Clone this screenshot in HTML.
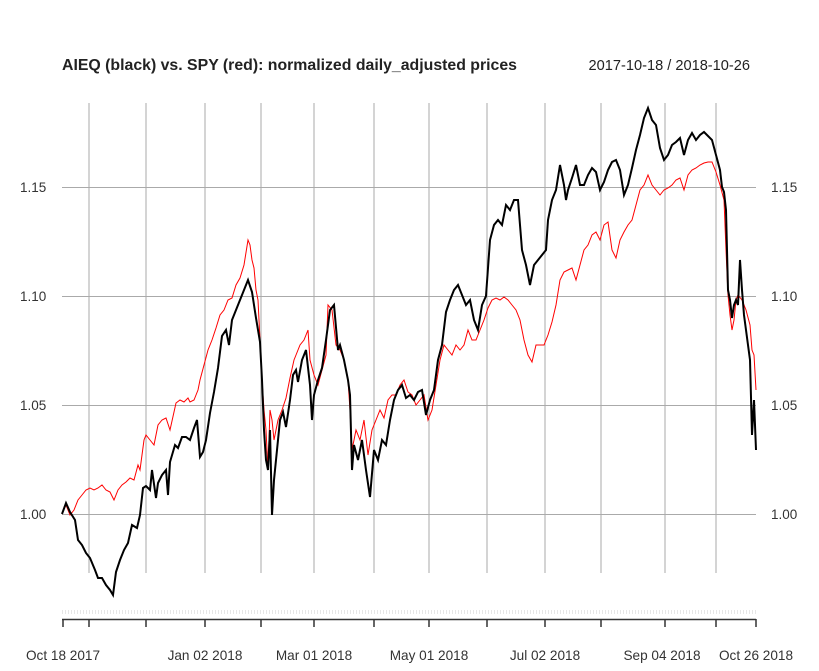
<!DOCTYPE html>
<html><head><meta charset="utf-8"><style>
html,body{margin:0;padding:0;background:#fff;}
svg{display:block;font-family:"Liberation Sans",Arial,sans-serif;}
</style></head><body>
<svg width="819" height="671" viewBox="0 0 819 671" xmlns="http://www.w3.org/2000/svg">
<rect width="819" height="671" fill="#fff"/>
<text x="62" y="70" font-size="15.6" font-weight="bold" fill="#222" textLength="455" lengthAdjust="spacingAndGlyphs">AIEQ (black) vs. SPY (red): normalized daily_adjusted prices</text>
<text x="750" y="70" font-size="14.6" text-anchor="end" fill="#222">2017-10-18 / 2018-10-26</text>
<g stroke="#aaa" stroke-width="1">
<line x1="62" y1="514.5" x2="756" y2="514.5"/>
<line x1="62" y1="405.5" x2="756" y2="405.5"/>
<line x1="62" y1="296.5" x2="756" y2="296.5"/>
<line x1="62" y1="187.5" x2="756" y2="187.5"/>
<g>
<line x1="89" y1="103" x2="89" y2="573"/><line x1="146" y1="103" x2="146" y2="573"/>
<line x1="205" y1="103" x2="205" y2="573"/><line x1="261" y1="103" x2="261" y2="573"/>
<line x1="314" y1="103" x2="314" y2="573"/><line x1="374" y1="103" x2="374" y2="573"/>
<line x1="429" y1="103" x2="429" y2="573"/><line x1="487" y1="103" x2="487" y2="573"/>
<line x1="545" y1="103" x2="545" y2="573"/><line x1="601" y1="103" x2="601" y2="573"/>
<line x1="665" y1="103" x2="665" y2="573"/><line x1="716" y1="103" x2="716" y2="573"/>
</g></g>
<g font-size="13.5" fill="#333">
<text x="20" y="519">1.00</text><text x="20" y="410">1.05</text><text x="20" y="301">1.10</text><text x="20" y="192">1.15</text>
<text x="771" y="519">1.00</text><text x="771" y="410">1.05</text><text x="771" y="301">1.10</text><text x="771" y="192">1.15</text>
</g>
<line x1="62" y1="612" x2="756" y2="612" stroke="#e6e6e6" stroke-width="4" stroke-dasharray="1,2"/>
<g stroke="#333" stroke-width="1.5">
<line x1="62" y1="619.5" x2="756" y2="619.5"/>
<line x1="63" y1="619" x2="63" y2="627"/><line x1="89" y1="619" x2="89" y2="627"/><line x1="146" y1="619" x2="146" y2="627"/>
<line x1="205" y1="619" x2="205" y2="627"/><line x1="261" y1="619" x2="261" y2="627"/><line x1="314" y1="619" x2="314" y2="627"/>
<line x1="374" y1="619" x2="374" y2="627"/><line x1="429" y1="619" x2="429" y2="627"/><line x1="487" y1="619" x2="487" y2="627"/>
<line x1="545" y1="619" x2="545" y2="627"/><line x1="601" y1="619" x2="601" y2="627"/><line x1="665" y1="619" x2="665" y2="627"/>
<line x1="716" y1="619" x2="716" y2="627"/><line x1="756" y1="619" x2="756" y2="627"/>
</g>
<g font-size="13.6" fill="#333" text-anchor="middle">
<text x="63" y="660">Oct 18 2017</text><text x="205" y="660">Jan 02 2018</text><text x="314" y="660">Mar 01 2018</text>
<text x="429" y="660">May 01 2018</text><text x="545" y="660">Jul 02 2018</text><text x="662" y="660">Sep 04 2018</text><text x="756" y="660">Oct 26 2018</text>
</g>
<polyline fill="none" stroke="#f00" stroke-width="1" points="62,514 66,505 70,515 74,510 78,500 82,495 86,490 90,488 94,490 98,488 102,485 106,490 110,492 114,500 118,490 122,485 126,482 130,478 134,480 138,465 140,470 144,440 146,435 150,440 154,445 158,425 162,420 166,418 170,430 174,412 176,403 180,400 184,402 188,398 190,402 194,400 196,395 198,390 200,380 204,365 208,350 212,340 216,328 220,315 224,310 228,300 232,298 236,285 240,278 244,265 248,240 250,245 252,260 254,268 256,290 258,300 260,340 262,380 264,410 266,430 268,470 270,410 272,420 274,440 278,420 282,410 286,398 290,378 294,360 296,355 300,345 304,340 308,330 310,360 314,375 318,385 322,370 326,355 328,305 332,310 336,345 340,350 344,360 348,380 350,410 352,450 356,430 360,440 364,420 368,455 372,430 376,420 380,410 384,418 388,400 392,395 396,395 400,385 404,380 408,392 412,395 416,405 420,400 424,395 428,420 432,410 436,385 440,360 444,345 448,350 452,355 456,345 460,350 464,345 468,330 472,340 476,340 480,330 484,320 488,308 492,300 496,298 500,300 504,297 508,300 512,305 516,310 520,320 524,340 528,355 532,362 536,345 540,345 544,345 548,335 552,322 556,305 560,280 564,272 568,270 572,268 576,280 580,265 584,250 588,245 592,235 596,232 600,240 604,225 608,222 612,250 616,258 620,240 624,232 628,225 632,220 636,205 640,190 644,185 648,175 652,185 656,190 660,195 664,190 668,188 672,185 676,180 680,178 684,190 688,175 692,170 696,168 700,165 704,163 708,162 712,162 716,172 720,185 724,200 726,250 728,295 730,315 732,330 734,320 736,300 738,295 742,300 746,310 750,325 752,350 754,355 756,390"/>
<polyline fill="none" stroke="#000" stroke-width="2" points="62,514 66,503 70,512 75,520 78,540 82,545 86,553 90,558 95,570 98,578 102,578 106,585 110,590 113,595 116,572 120,560 124,550 128,543 132,525 137,528 140,515 143,488 146,486 150,490 152,470 156,498 158,483 162,475 166,470 168,495 170,462 175,445 178,448 182,437 186,437 190,440 194,428 197,420 200,457 203,452 206,440 210,413 214,392 218,368 222,336 226,330 229,345 232,320 236,310 240,300 244,290 248,280 252,292 256,318 258,330 260,342 262,380 264,430 266,460 268,470 270,430 272,515 274,480 276,460 280,420 283,412 286,427 290,400 293,375 296,370 298,382 302,360 306,350 310,385 312,420 314,395 318,380 322,368 326,340 330,310 334,305 338,350 340,345 344,360 348,380 350,395 352,470 354,445 358,460 362,440 366,470 370,497 374,450 378,460 382,440 386,445 390,420 394,400 398,390 402,385 406,398 410,395 414,400 418,392 422,390 426,415 430,400 434,390 438,360 442,345 446,312 450,300 454,290 458,285 462,295 466,305 470,300 474,320 478,330 482,305 486,296 490,240 494,225 498,220 502,225 506,205 510,210 514,200 518,200 520,225 522,250 526,265 530,285 534,265 538,260 542,255 546,250 548,220 552,200 556,190 560,165 564,185 566,200 568,190 572,178 576,165 580,185 584,185 588,175 592,168 596,172 600,190 604,182 608,170 612,162 616,160 620,170 624,195 628,185 632,168 636,150 640,135 644,118 648,108 652,120 656,125 660,148 664,160 668,155 672,145 676,142 680,138 684,155 688,140 692,133 696,140 700,135 704,132 708,136 712,140 716,155 720,170 722,187 724,192 726,210 728,290 730,300 732,318 734,305 736,300 738,305 740,260 742,290 744,315 746,330 748,345 750,360 752,435 754,400 756,450"/>
</svg>
</body></html>
